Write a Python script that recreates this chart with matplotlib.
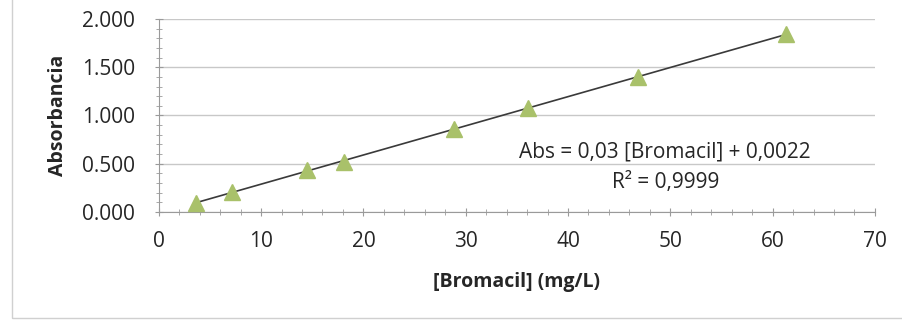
import numpy as np
import matplotlib.pyplot as plt
from matplotlib.ticker import MultipleLocator, FormatStrFormatter
from matplotlib.patches import Rectangle

# 데이터
conc = [3.6, 7.2, 14.5, 18.1, 28.9, 36.1, 46.8, 61.3]
absorb = [0.09, 0.21, 0.43, 0.52, 0.86, 1.08, 1.40, 1.84]
eq_text = 'Abs = 0,03 [Bromacil] + 0,0022'
r2_text = 'R² = 0,9999'

plt.rcParams['font.family'] = ['Open Sans', 'DejaVu Sans']

fig = plt.figure(figsize=(9.02, 3.23), dpi=100)
ax = fig.add_axes([0.176, 0.344, 0.794, 0.597])

# 추세선 (선형 회귀)
k, b = np.polyfit(conc, absorb, 1)
xs = np.array([min(conc), max(conc)])
ax.plot(xs, k * xs + b, c='#3a3a3a', lw=1.2, zorder=2)
ax.plot(conc, absorb, ls='none', marker='^', ms=11, c='#a9c16a', zorder=3)

ax.set_xlim(0, 70)
ax.set_ylim(0, 2.0)
ax.xaxis.set_major_locator(MultipleLocator(10))
ax.xaxis.set_minor_locator(MultipleLocator(2))
ax.yaxis.set_major_locator(MultipleLocator(0.5))
ax.yaxis.set_minor_locator(MultipleLocator(0.1))
ax.yaxis.set_major_formatter(FormatStrFormatter('%.3f'))

ax.grid(axis='y', which='major', color='#c8c8c8', lw=1)
for s in ['top', 'right']:
    ax.spines[s].set_visible(False)
for s in ['left', 'bottom']:
    ax.spines[s].set_color('#9a9a9a')
ax.tick_params(which='both', direction='inout', color='#9a9a9a', labelsize=15)
ax.tick_params(which='major', length=6)
ax.tick_params(which='minor', length=4)
ax.tick_params(labelcolor='#262626')
ax.tick_params(axis='x', pad=11)
ax.tick_params(axis='y', pad=14)

ax.set_xlabel('[Bromacil] (mg/L)', fontweight='bold', fontsize=14, labelpad=14, color='#262626')
ax.set_ylabel('Absorbancia', fontweight='bold', fontsize=14, labelpad=10, color='#262626')

ax.text(49.5, 0.62, eq_text, ha='center', va='center', fontsize=15, color='#262626')
ax.text(49.5, 0.30, r2_text, ha='center', va='center', fontsize=15, color='#262626')

# 차트 테두리
fig.patches.append(Rectangle((0.013, 0.015), 0.99, 1.2, transform=fig.transFigure,
                             fill=False, ec='#d0d0d0', lw=1))

plt.savefig('out.png', dpi=100)
